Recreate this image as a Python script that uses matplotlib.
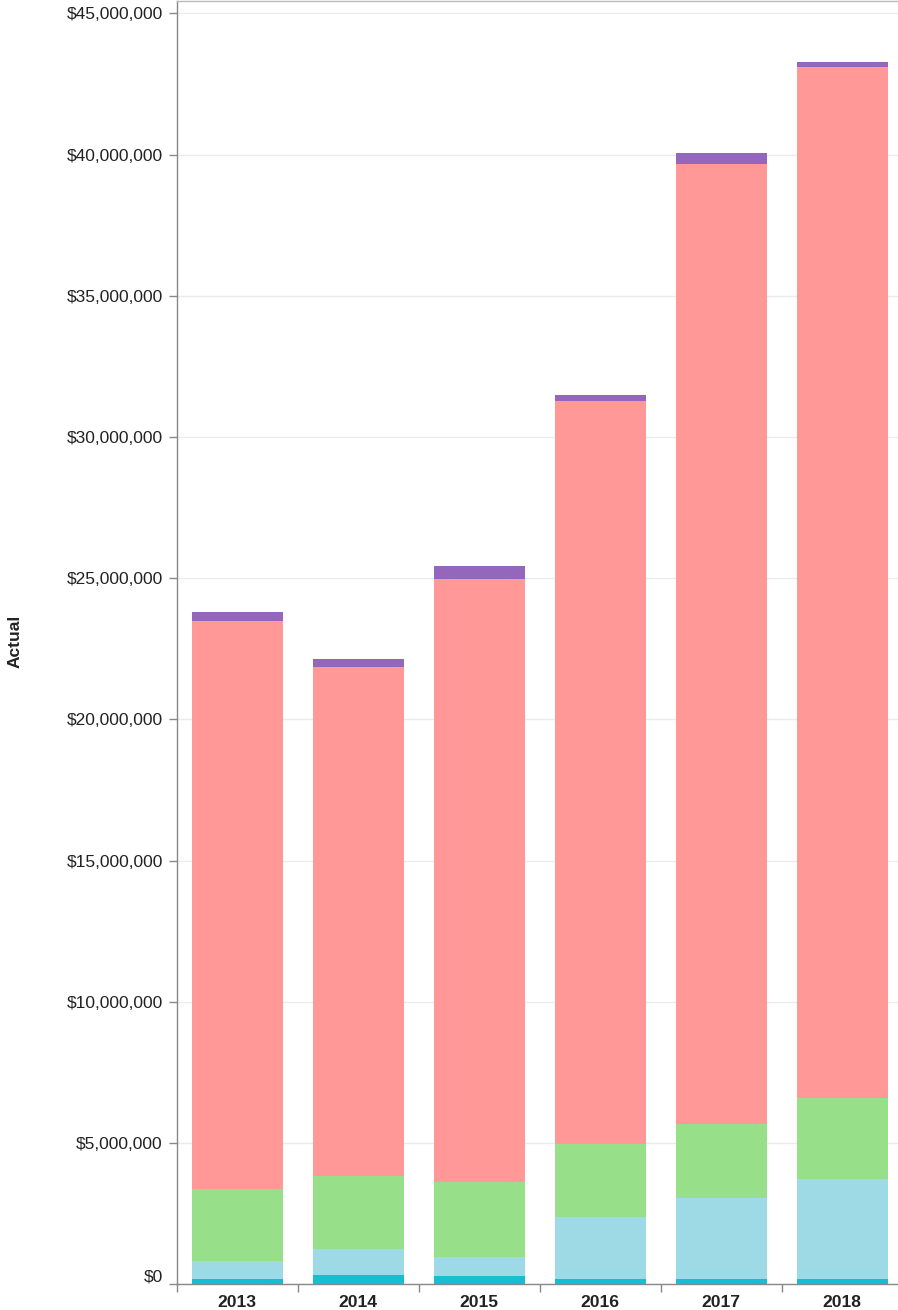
import matplotlib
matplotlib.use("Agg")
import matplotlib.pyplot as plt
from matplotlib.ticker import FuncFormatter, FixedLocator

years = ["2013", "2014", "2015", "2016", "2017", "2018"]
# stacked segments, bottom to top (values in dollars)
seg_teal = [177000, 340000, 284000, 177000, 177000, 177000]
seg_lightblue = [660000, 900000, 673000, 2200000, 2870000, 3540000]
seg_green = [2540000, 2600000, 2660000, 2590000, 2645000, 2876000]
seg_red = [20120000, 18030000, 21340000, 26320000, 33990000, 36520000]
seg_purple = [300000, 280000, 460000, 190000, 370000, 170000]

series = [seg_teal, seg_lightblue, seg_green, seg_red, seg_purple]
colors = ["#17becf", "#9edae5", "#98df8a", "#ff9896", "#9467bd"]
y_ticks = [0, 5e6, 10e6, 15e6, 20e6, 25e6, 30e6, 35e6, 40e6, 45e6]

plt.rcParams['font.family'] = ['Liberation Sans', 'DejaVu Sans']

W, H = 898, 1310
fig = plt.figure(figsize=(W / 100, H / 100), dpi=100)
left, right = 176.7, 902.7
top, bottom = 1.3, 1284.3
ax = fig.add_axes([left / W, (H - bottom) / H, (right - left) / W, (bottom - top) / H])

x = list(range(len(years)))
base = [0.0] * len(years)
for vals, c in zip(series, colors):
    ax.bar(x, vals, width=0.75, bottom=base, color=c, edgecolor='none', zorder=2)
    base = [b + v for b, v in zip(base, vals)]

ax.set_xlim(-0.5, len(years) - 0.5)
ax.set_ylim(0, 45.43e6)

ax.yaxis.set_major_locator(FixedLocator(y_ticks))
ax.yaxis.set_major_formatter(FuncFormatter(lambda v, p: "${:,.0f}".format(v)))
ax.grid(axis='y', color='#ebebeb', linewidth=1, zorder=0)
ax.set_axisbelow(True)

ax.set_xticks(x)
ax.set_xticklabels(years, fontweight='bold')
ax.set_xticks([i - 0.5 for i in range(len(years) + 1)], minor=True)
ax.tick_params(axis='x', which='major', length=0, pad=8, labelsize=12.6, labelcolor='#222')
ax.tick_params(axis='x', which='minor', length=6, width=1, color='#888')
ax.tick_params(axis='y', which='major', length=6, width=1, color='#888', pad=4,
               labelsize=12.5, labelcolor='#222')

for s in ['left', 'bottom', 'top']:
    ax.spines[s].set_color('#888')
    ax.spines[s].set_linewidth(1)
ax.spines['top'].set_color('#bbb')
ax.spines['right'].set_visible(False)

fig.canvas.draw()
lbls = ax.get_yticklabels()
lbls[0].set_va('bottom')

fig.text(15 / W, 1 - 641 / H, "Actual", rotation=90, ha='center', va='center',
         fontsize=12.5, fontweight='bold', color='#222')

fig.savefig("out.png", dpi=100)
